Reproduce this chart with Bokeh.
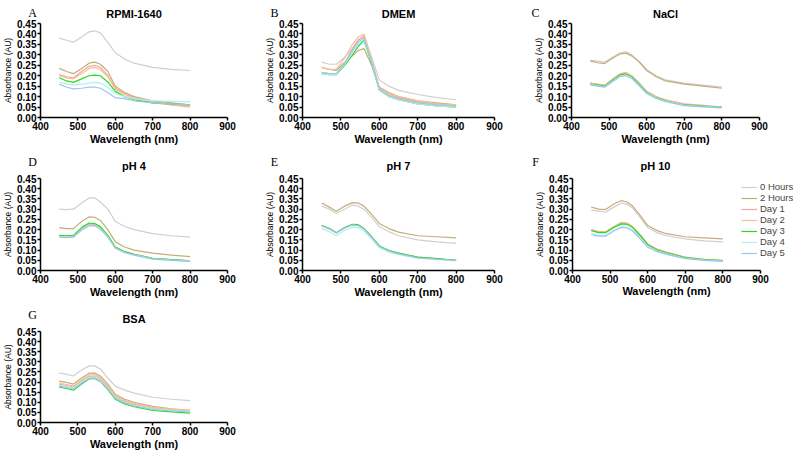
from bokeh.plotting import figure
from bokeh.layouts import column, row
from bokeh.models import Range1d, FixedTicker, NumeralTickFormatter, Label, Legend, LegendItem
from bokeh.embed import file_html
from bokeh.resources import INLINE

# ---------------- data ----------------
wavelength = [450, 470, 488, 510, 530, 545, 560, 580, 600, 625, 650, 700, 750, 800]
series_names = ["0 Hours", "2 Hours", "Day 1", "Day 2", "Day 3", "Day 4", "Day 5"]
series_colors = ["#cfcfcf", "#c4ad78", "#f4a4a4", "#f7c08a", "#22dd22", "#b0f0ee", "#a0c4f0"]
x_ticks = [400, 500, 600, 700, 800, 900]
y_ticks = [0.0, 0.05, 0.10, 0.15, 0.20, 0.25, 0.30, 0.35, 0.40, 0.45]
x_start, x_end = 400, 900
y_start, y_end = 0.0, 0.45

rpmi = [
    [0.380, 0.370, 0.360, 0.385, 0.410, 0.415, 0.405, 0.360, 0.310, 0.280, 0.260, 0.240, 0.230, 0.225],
    [0.235, 0.220, 0.210, 0.235, 0.260, 0.265, 0.255, 0.220, 0.150, 0.120, 0.100, 0.080, 0.070, 0.060],
    [0.205, 0.195, 0.190, 0.220, 0.245, 0.250, 0.240, 0.200, 0.140, 0.115, 0.095, 0.075, 0.060, 0.055],
    [0.200, 0.190, 0.185, 0.210, 0.235, 0.240, 0.230, 0.195, 0.135, 0.110, 0.090, 0.070, 0.060, 0.050],
    [0.190, 0.175, 0.168, 0.185, 0.200, 0.203, 0.200, 0.170, 0.125, 0.100, 0.085, 0.070, 0.065, 0.060],
    [0.170, 0.160, 0.155, 0.160, 0.165, 0.168, 0.165, 0.145, 0.115, 0.100, 0.090, 0.080, 0.078, 0.075],
    [0.160, 0.145, 0.137, 0.140, 0.145, 0.145, 0.140, 0.120, 0.095, 0.090, 0.080, 0.070, 0.065, 0.060],
]
dmem = [
    [0.265, 0.255, 0.255, 0.290, 0.330, 0.370, 0.390, 0.290, 0.180, 0.150, 0.130, 0.110, 0.095, 0.085],
    [0.240, 0.230, 0.225, 0.265, 0.295, 0.320, 0.330, 0.250, 0.145, 0.120, 0.100, 0.080, 0.070, 0.060],
    [0.215, 0.210, 0.205, 0.260, 0.330, 0.370, 0.390, 0.270, 0.140, 0.110, 0.095, 0.075, 0.065, 0.055],
    [0.240, 0.230, 0.230, 0.285, 0.350, 0.385, 0.400, 0.280, 0.140, 0.115, 0.100, 0.080, 0.065, 0.060],
    [0.210, 0.205, 0.205, 0.250, 0.300, 0.340, 0.370, 0.260, 0.130, 0.100, 0.085, 0.065, 0.055, 0.050],
    [0.210, 0.205, 0.205, 0.255, 0.310, 0.350, 0.375, 0.265, 0.130, 0.100, 0.085, 0.065, 0.055, 0.050],
    [0.215, 0.210, 0.210, 0.260, 0.320, 0.360, 0.380, 0.270, 0.135, 0.105, 0.090, 0.070, 0.060, 0.055],
]
nacl = [
    [0.275, 0.270, 0.265, 0.290, 0.310, 0.315, 0.300, 0.270, 0.230, 0.200, 0.180, 0.165, 0.155, 0.145],
    [0.270, 0.262, 0.258, 0.285, 0.305, 0.308, 0.295, 0.265, 0.225, 0.195, 0.175, 0.160, 0.150, 0.140],
    [0.165, 0.160, 0.155, 0.185, 0.210, 0.215, 0.200, 0.165, 0.125, 0.100, 0.085, 0.065, 0.058, 0.050],
    [0.165, 0.158, 0.153, 0.183, 0.208, 0.213, 0.198, 0.163, 0.123, 0.098, 0.083, 0.063, 0.056, 0.050],
    [0.160, 0.155, 0.150, 0.180, 0.205, 0.208, 0.195, 0.160, 0.120, 0.095, 0.080, 0.060, 0.054, 0.048],
    [0.158, 0.152, 0.147, 0.175, 0.200, 0.203, 0.190, 0.155, 0.117, 0.093, 0.078, 0.058, 0.052, 0.047],
    [0.155, 0.150, 0.145, 0.172, 0.197, 0.200, 0.187, 0.152, 0.115, 0.091, 0.076, 0.057, 0.051, 0.046],
]
ph4 = [
    [0.300, 0.298, 0.300, 0.330, 0.355, 0.355, 0.335, 0.300, 0.240, 0.215, 0.200, 0.180, 0.170, 0.163],
    [0.210, 0.205, 0.205, 0.240, 0.262, 0.260, 0.245, 0.200, 0.140, 0.115, 0.100, 0.085, 0.075, 0.068],
    [0.170, 0.168, 0.170, 0.205, 0.225, 0.225, 0.210, 0.170, 0.115, 0.092, 0.080, 0.060, 0.053, 0.048],
    [0.168, 0.166, 0.168, 0.203, 0.223, 0.223, 0.208, 0.168, 0.113, 0.090, 0.078, 0.058, 0.052, 0.047],
    [0.172, 0.170, 0.172, 0.210, 0.232, 0.230, 0.215, 0.172, 0.115, 0.092, 0.079, 0.059, 0.053, 0.047],
    [0.165, 0.163, 0.165, 0.200, 0.220, 0.220, 0.205, 0.165, 0.110, 0.088, 0.076, 0.057, 0.051, 0.046],
    [0.163, 0.161, 0.163, 0.198, 0.218, 0.218, 0.203, 0.163, 0.109, 0.087, 0.075, 0.056, 0.050, 0.045],
]
ph7 = [
    [0.315, 0.300, 0.280, 0.300, 0.320, 0.315, 0.300, 0.260, 0.215, 0.190, 0.170, 0.150, 0.140, 0.133],
    [0.330, 0.310, 0.290, 0.315, 0.332, 0.330, 0.315, 0.275, 0.230, 0.205, 0.188, 0.170, 0.165, 0.160],
    [0.220, 0.205, 0.185, 0.210, 0.225, 0.222, 0.205, 0.165, 0.120, 0.098, 0.085, 0.065, 0.058, 0.050],
    [0.220, 0.204, 0.184, 0.209, 0.224, 0.221, 0.204, 0.164, 0.119, 0.097, 0.084, 0.064, 0.057, 0.050],
    [0.220, 0.205, 0.185, 0.210, 0.226, 0.224, 0.206, 0.166, 0.120, 0.098, 0.085, 0.065, 0.058, 0.050],
    [0.205, 0.190, 0.170, 0.197, 0.212, 0.210, 0.193, 0.155, 0.112, 0.090, 0.078, 0.060, 0.053, 0.047],
    [0.218, 0.203, 0.183, 0.208, 0.223, 0.220, 0.203, 0.162, 0.117, 0.095, 0.082, 0.062, 0.055, 0.049],
]
ph10 = [
    [0.295, 0.290, 0.285, 0.310, 0.330, 0.325, 0.305, 0.260, 0.210, 0.185, 0.170, 0.155, 0.145, 0.140],
    [0.310, 0.300, 0.298, 0.325, 0.342, 0.335, 0.315, 0.270, 0.220, 0.195, 0.180, 0.165, 0.160, 0.155],
    [0.200, 0.190, 0.190, 0.215, 0.235, 0.232, 0.215, 0.175, 0.130, 0.105, 0.090, 0.065, 0.055, 0.050],
    [0.198, 0.188, 0.188, 0.213, 0.233, 0.230, 0.213, 0.173, 0.128, 0.103, 0.088, 0.064, 0.054, 0.049],
    [0.195, 0.185, 0.185, 0.210, 0.228, 0.226, 0.210, 0.170, 0.126, 0.100, 0.087, 0.063, 0.053, 0.048],
    [0.180, 0.172, 0.172, 0.197, 0.215, 0.213, 0.198, 0.160, 0.118, 0.095, 0.082, 0.060, 0.051, 0.046],
    [0.175, 0.168, 0.168, 0.193, 0.210, 0.208, 0.193, 0.155, 0.114, 0.092, 0.079, 0.058, 0.050, 0.045],
]
bsa = [
    [0.245, 0.238, 0.230, 0.260, 0.280, 0.280, 0.265, 0.220, 0.180, 0.160, 0.145, 0.125, 0.115, 0.108],
    [0.205, 0.198, 0.190, 0.220, 0.243, 0.245, 0.230, 0.190, 0.140, 0.115, 0.100, 0.080, 0.068, 0.060],
    [0.190, 0.183, 0.175, 0.205, 0.228, 0.230, 0.215, 0.175, 0.128, 0.105, 0.090, 0.070, 0.062, 0.057],
    [0.195, 0.188, 0.180, 0.210, 0.235, 0.237, 0.222, 0.182, 0.133, 0.110, 0.095, 0.075, 0.065, 0.060],
    [0.175, 0.168, 0.160, 0.190, 0.215, 0.218, 0.203, 0.163, 0.115, 0.092, 0.078, 0.060, 0.053, 0.046],
    [0.185, 0.178, 0.170, 0.200, 0.222, 0.225, 0.210, 0.170, 0.123, 0.100, 0.085, 0.067, 0.060, 0.055],
    [0.180, 0.173, 0.165, 0.195, 0.218, 0.220, 0.205, 0.167, 0.120, 0.097, 0.082, 0.064, 0.057, 0.052],
]

# ---------------- layout (pixels) ----------------
# columns: (min_border_left, axis width 400..900, min_border_right, letter offset from frame left)
COLS = [(40, 187, 35, -8), (37, 192, 36, -28), (41, 188, 44, -36)]
# rows: (min_border_top, frame_height, min_border_bottom, title standoff)
ROWS = [(23, 94, 32, 7), (29, 92, 32, 13), (29, 91, 32, 13)]
# the legend panel: its frame runs on past 900 so that the legend is not clipped
LEG_PANEL = dict(left=42, frame=221, right=10, letter=-37, title_offset=68)

SANS = "Liberation Sans"
SERIF = "Liberation Serif"


def make_panel(letter, title, data, c, r, with_legend=False):
    ml, aw, mr, ldx = COLS[c]
    fw = aw
    if with_legend:
        ml, fw, mr, ldx = LEG_PANEL["left"], LEG_PANEL["frame"], LEG_PANEL["right"], LEG_PANEL["letter"]
    mt, fh, mb, tstand = ROWS[r]
    # x range end so that 400..900 spans exactly aw pixels of the frame
    xr_end = x_start + fw * (x_end - x_start) / aw
    p = figure(frame_width=fw, frame_height=fh,
               min_border_left=ml, min_border_right=mr,
               min_border_top=mt, min_border_bottom=mb,
               x_range=Range1d(x_start, xr_end), y_range=Range1d(y_start, y_end),
               output_backend="svg", toolbar_location=None, tools="")
    p.outline_line_color = None
    p.grid.visible = False
    p.background_fill_color = "white"
    p.border_fill_color = "white"

    p.title.text = title
    p.title.text_font = SANS
    p.title.text_font_style = "bold"
    p.title.text_font_size = "11px"
    p.title.text_color = "black"
    p.title.standoff = tstand
    if with_legend:
        p.title.align = "left"
        p.title.offset = LEG_PANEL["title_offset"]
    else:
        p.title.align = "center"

    renderers = []
    for vals, color in zip(data, series_colors):
        rr = p.line(wavelength, vals, line_color=color, line_width=1.2)
        renderers.append(rr)

    for ax in (p.xaxis[0], p.yaxis[0]):
        ax.axis_line_width = 1.5
        ax.axis_line_color = "black"
        ax.major_tick_line_width = 1.5
        ax.major_tick_line_color = "black"
        ax.major_tick_out = 3
        ax.major_tick_in = 0
        ax.minor_tick_out = 0
        ax.minor_tick_in = 0
        ax.major_label_text_font = SANS
        ax.major_label_text_font_style = "bold"
        ax.major_label_text_font_size = "10px"
        ax.major_label_text_color = "black"
        ax.major_label_standoff = 1
    p.xaxis.ticker = FixedTicker(ticks=x_ticks)
    p.yaxis.ticker = FixedTicker(ticks=y_ticks)
    p.yaxis.formatter = NumeralTickFormatter(format="0.00")
    p.xaxis.bounds = (x_start, x_end)
    p.yaxis.bounds = (y_start, y_end)

    p.yaxis.axis_label = "Absorbance (AU)"
    p.yaxis.axis_label_text_font = SANS
    p.yaxis.axis_label_text_font_style = "normal"
    p.yaxis.axis_label_text_font_size = "8.5px"
    p.yaxis.axis_label_text_color = "black"
    p.yaxis.axis_label_standoff = 1

    if with_legend:
        # the frame is wider than the 400..900 axis here: centre the axis title under the axis
        p.add_layout(Label(x=aw / 2, y=7, x_units="screen", y_units="screen",
                           text="Wavelength (nm)", text_align="center", text_baseline="middle",
                           text_font=SANS, text_font_style="bold", text_font_size="11px",
                           text_color="black"), "below")
    else:
        p.xaxis.axis_label = "Wavelength (nm)"
        p.xaxis.axis_label_text_font = SANS
        p.xaxis.axis_label_text_font_style = "bold"
        p.xaxis.axis_label_text_font_size = "11px"
        p.xaxis.axis_label_text_color = "black"
        p.xaxis.axis_label_standoff = 0

    # panel letter, kept in the right side panel (not clipped), shifted to the title line
    p.add_layout(Label(x=ldx - fw, y=fh + tstand + 3.5, x_units="screen", y_units="screen",
                       text=letter, text_align="center", text_baseline="middle",
                       text_font=SERIF, text_font_size="12px", text_color="black"), "right")

    if with_legend:
        items = [LegendItem(label=n, renderers=[rr]) for n, rr in zip(series_names, renderers)]
        lg = Legend(items=items, location=(169, 12),
                    label_text_font=SANS, label_text_font_size="9.5px",
                    label_height=10, glyph_height=10, glyph_width=16,
                    label_standoff=3, spacing=0, padding=0, margin=0,
                    border_line_color=None, background_fill_alpha=0)
        p.add_layout(lg)
    return p


pA = make_panel("A", "RPMI-1640", rpmi, 0, 0)
pB = make_panel("B", "DMEM", dmem, 1, 0)
pC = make_panel("C", "NaCl", nacl, 2, 0)
pD = make_panel("D", "pH 4", ph4, 0, 1)
pE = make_panel("E", "pH 7", ph7, 1, 1)
pF = make_panel("F", "pH 10", ph10, 2, 1, with_legend=True)
pG = make_panel("G", "BSA", bsa, 0, 2)

layout = column(row(pA, pB, pC), row(pD, pE, pF), row(pG))

with open("out.html", "w") as f:
    f.write(file_html(layout, INLINE))
